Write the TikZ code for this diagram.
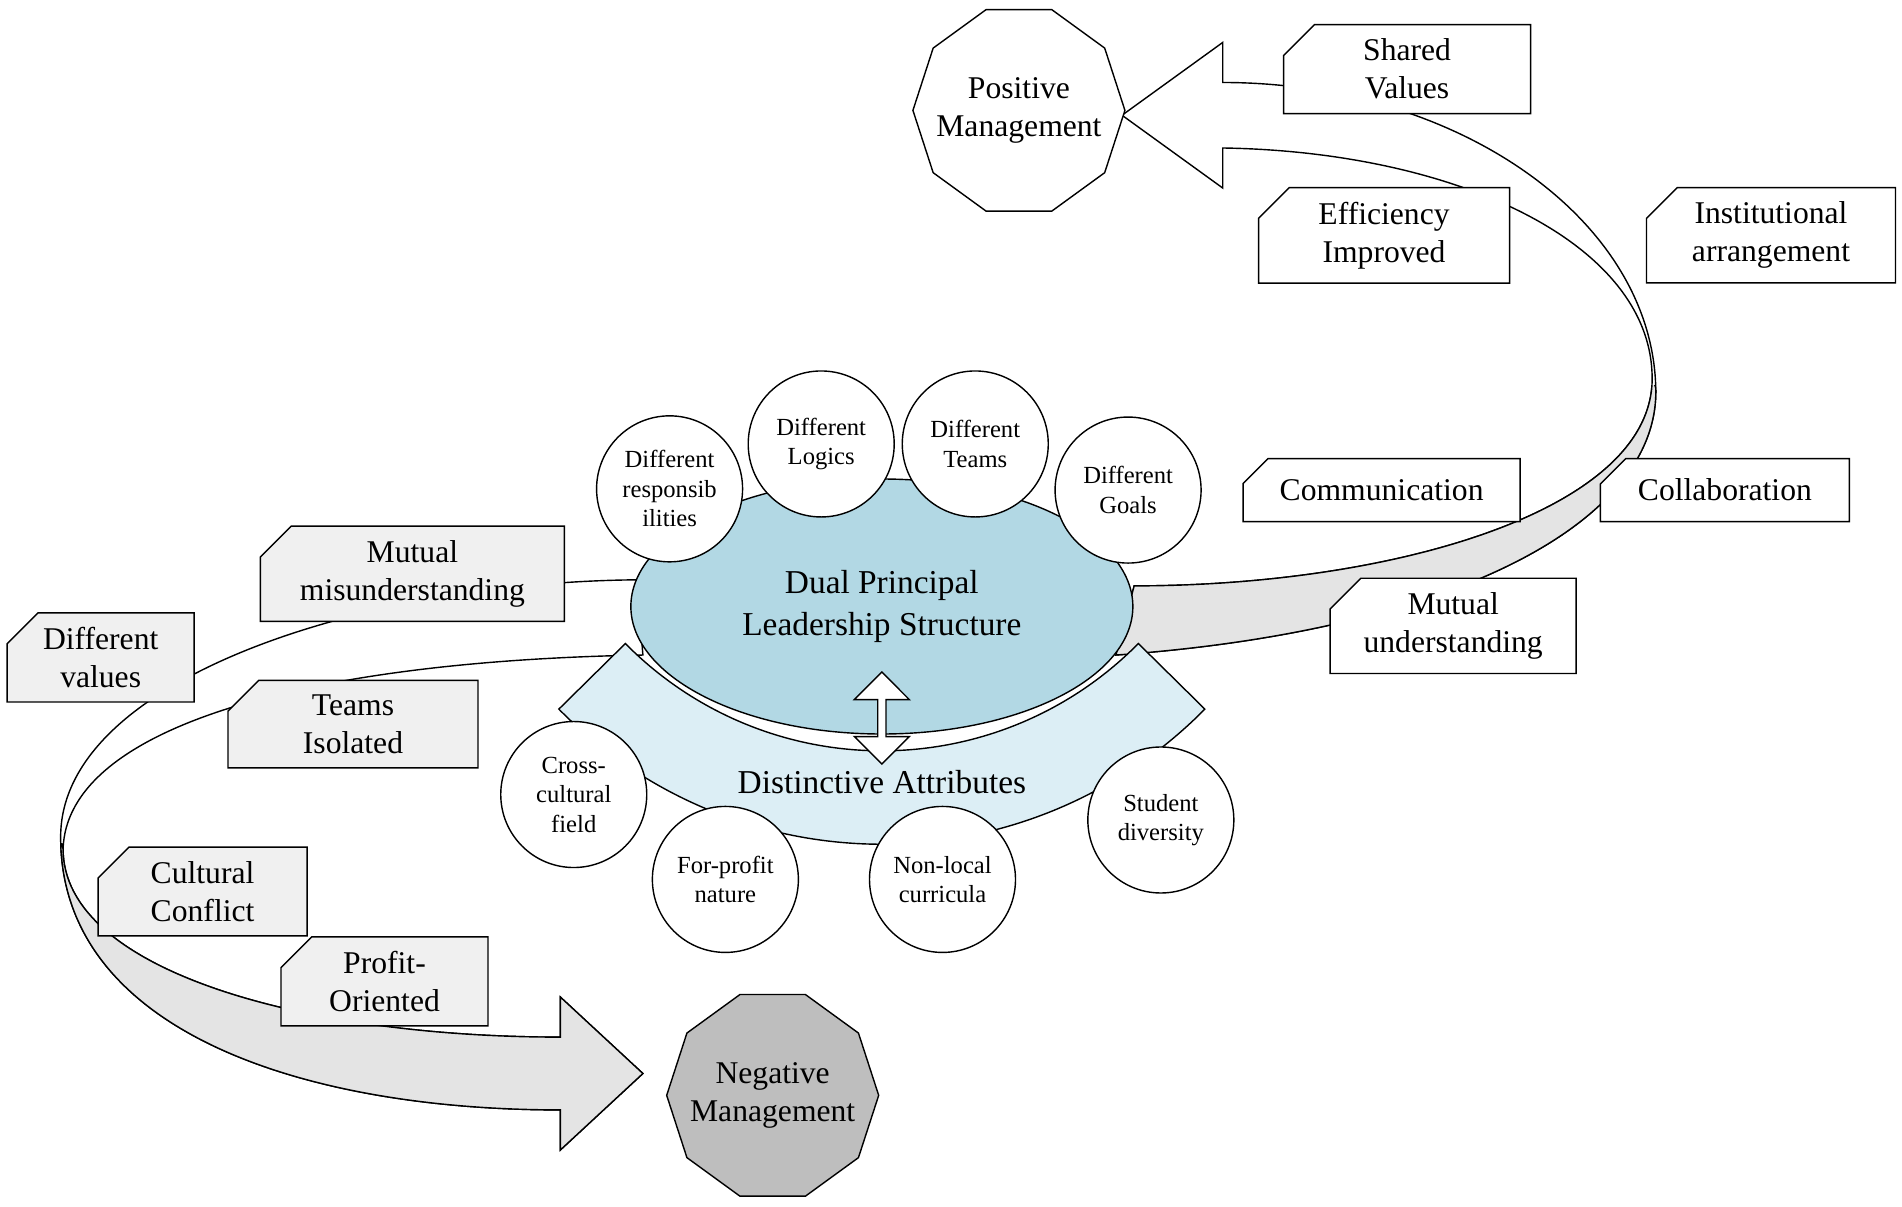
\documentclass[tikz,border=0pt]{standalone}
\usepackage{fontspec}
\setmainfont{Liberation Serif}
\usepackage{tikz}
\usetikzlibrary{shapes.geometric,shapes.misc,shapes.arrows}
\definecolor{dualblue}{RGB}{178,216,228}
\definecolor{attrblue}{RGB}{220,238,245}
\definecolor{bandgray}{RGB}{228,228,228}
\definecolor{taggray}{RGB}{240,240,240}
\definecolor{neggray}{RGB}{190,190,190}
\begin{document}
\begin{tikzpicture}[x=0.01213cm,y=0.01213cm,thin,
      tag/.style={chamfered rectangle,chamfered rectangle corners=north west,
        chamfered rectangle xsep=0.2cm,draw,fill=white,align=center,
        font=\fontsize{9}{10.8}\selectfont,inner sep=1pt},
      attr node/.style={circle,draw,fill=white,minimum size=1.46cm,align=center,
        inner sep=0pt,font=\fontsize{7}{8.4}\selectfont},
      outcome/.style={regular polygon,regular polygon sides=10,draw,minimum size=2.12cm,
        inner sep=-9pt,align=center,font=\fontsize{9}{10.8}\selectfont}]
  \useasboundingbox (0,0) rectangle (1568,-995);

  % positive band
  \path[fill=white,draw] (920,-540) .. controls (1200,-520) and (1368,-430) .. (1365,-320)
    .. controls (1362,-180) and (1200,-68) .. (1008,-68) -- (1008,-35) -- (925,-95)
    -- (1008,-155) -- (1008,-122) .. controls (1200,-125) and (1360,-200) .. (1362,-310)
    .. controls (1365,-420) and (1150,-483) .. (935,-483) -- cycle;
  \begin{scope}
    \clip (900,-318) rectangle (1400,-560);
    \path[fill=bandgray,draw] (920,-540) .. controls (1200,-520) and (1368,-430) .. (1365,-320)
      -- (1362,-310) .. controls (1365,-420) and (1150,-483) .. (935,-483) -- cycle;
  \end{scope}

  % negative band
  \path[fill=white,draw] (525,-478) .. controls (300,-480) and (50,-560) .. (50,-690)
    .. controls (50,-850) and (250,-915) .. (462,-915) -- (462,-948) -- (530,-885)
    -- (462,-822) -- (462,-855) .. controls (250,-855) and (52,-800) .. (52,-700)
    .. controls (55,-600) and (250,-545) .. (530,-540) -- cycle;
  \begin{scope}
    \clip (0,-695) rectangle (560,-995);
    \path[fill=bandgray,draw] (50,-690)
      .. controls (50,-850) and (250,-915) .. (462,-915) -- (462,-948) -- (530,-885)
      -- (462,-822) -- (462,-855) .. controls (250,-855) and (52,-800) .. (52,-700) -- cycle;
  \end{scope}

  \node[ellipse,draw,fill=dualblue,minimum width=5.02cm,minimum height=2.55cm,align=center,
    font=\fontsize{9.5}{12}\selectfont] (dual) at (727,-500) {Dual Principal\\Leadership Structure};

  % distinctive attributes
  \filldraw[fill=attrblue] ([shift={(727,-322)}]224.6:374) arc (224.6:315.4:374)
    -- ([shift={(727,-322)}]315.4:297) arc (315.4:224.6:297) -- cycle;
  \node[double arrow,draw,fill=white,rotate=90,minimum width=0.55cm,minimum height=0.92cm,
    double arrow head extend=0.14cm,double arrow head indent=0pt,inner sep=0.5pt] (link) at (727,-592) {};
  \node[font=\fontsize{9.5}{11}\selectfont] (attr) at (727,-645) {Distinctive Attributes};

  \node[attr node] (resp) at (552,-403) {Different\\responsib\\ilities};
  \node[attr node] (logic) at (677,-366) {Different\\Logics};
  \node[attr node] (teams) at (804,-366) {Different\\Teams};
  \node[attr node] (goals) at (930,-404) {Different\\Goals};
  \node[attr node] (cross) at (473,-655) {Cross-\\cultural\\field};
  \node[attr node] (profit) at (598,-725) {For-profit\\nature};
  \node[attr node] (curr) at (777,-725) {Non-local\\curricula};
  \node[attr node] (stud) at (957,-676) {Student\\diversity};

  \node[tag,minimum width=2.47cm,minimum height=0.69cm] (shared) at (1160,-57) {Shared\\Values};
  \node[tag,minimum width=2.51cm,minimum height=0.87cm] (eff) at (1141,-194) {Efficiency\\Improved};
  \node[tag,minimum width=2.49cm,minimum height=0.87cm] (inst) at (1460,-194) {Institutional\\arrangement};
  \node[tag,minimum width=2.77cm,minimum height=0.63cm] (comm) at (1139,-404) {Communication};
  \node[tag,minimum width=2.49cm,minimum height=0.63cm] (coll) at (1422,-404) {Collaboration};
  \node[tag,minimum width=2.46cm,minimum height=0.69cm] (mutu) at (1198,-516) {Mutual\\understanding};
  \node[tag,fill=taggray,minimum width=3.04cm,minimum height=0.69cm] (mism) at (340,-473) {Mutual\\misunderstanding};
  \node[tag,fill=taggray,minimum width=1.87cm,minimum height=0.85cm] (vals) at (83,-542) {Different\\values};
  \node[tag,fill=taggray,minimum width=2.5cm,minimum height=0.72cm] (iso) at (291,-597) {Teams\\Isolated};
  \node[tag,fill=taggray,minimum width=2.09cm,minimum height=0.73cm] (conf) at (167,-735) {Cultural\\Conflict};
  \node[tag,fill=taggray,minimum width=2.07cm,minimum height=0.7cm] (prof) at (317,-809) {Profit-\\Oriented};

  \node[outcome,fill=white] (pos) at (840,-91) {Positive\\Management};
  \node[outcome,fill=neggray] (neg) at (637,-903) {Negative\\Management};
\end{tikzpicture}
\end{document}
